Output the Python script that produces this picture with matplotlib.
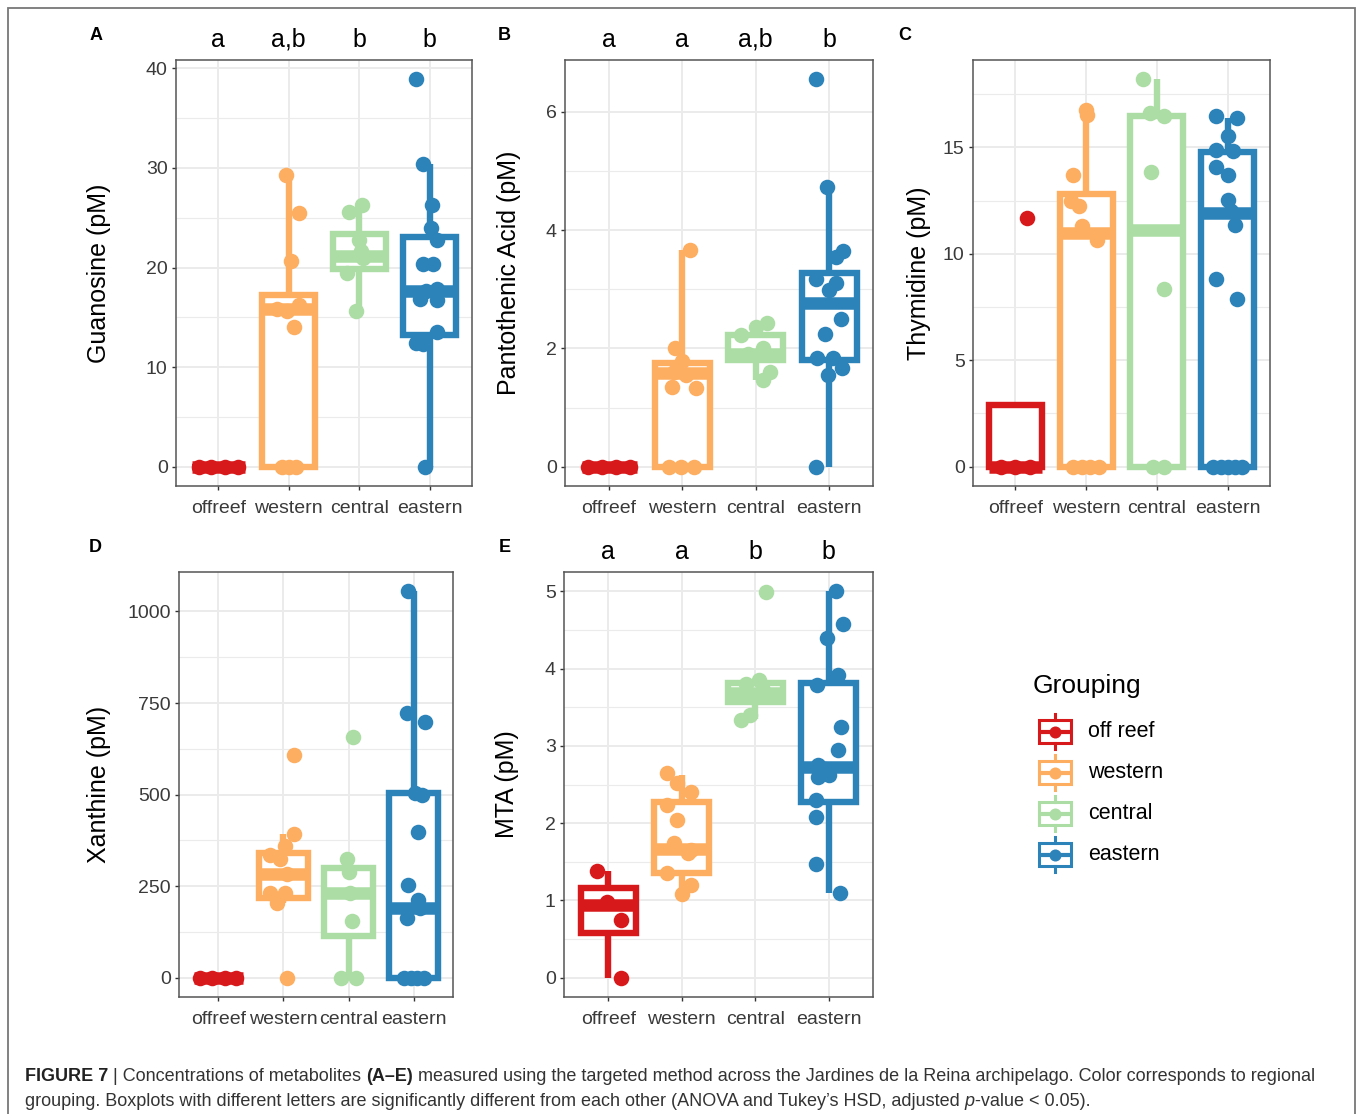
import matplotlib.pyplot as plt
from matplotlib.patches import Rectangle
from matplotlib.transforms import blended_transform_factory

plt.rcParams["font.family"] = ["Liberation Sans", "DejaVu Sans"]

W, H = 1358, 1114

groups = ["offreef", "western", "central", "eastern"]
legend_labels = ["off reef", "western", "central", "eastern"]
colours = ["#D7191C", "#FDAE61", "#ABDDA4", "#2B83BA"]

# ---- A: Guanosine ----
guan_off = [0, 0, 0, 0]
guan_off_dx = [-0.28, -0.1, 0.1, 0.28]
guan_west = [29.3, 25.5, 20.7, 16.2, 15.8, 15.6, 14.0, 0, 0, 0]
guan_west_dx = [-0.04, 0.14, 0.03, 0.14, -0.16, -0.02, 0.08, -0.1, 0.0, 0.1]
guan_cen = [26.3, 25.6, 22.8, 21.7, 21.0, 19.5, 15.6]
guan_cen_dx = [0.04, -0.14, 0.0, 0.02, 0.05, -0.17, -0.04]
guan_east = [38.9, 30.4, 26.3, 24.0, 22.8, 20.4, 20.4, 17.8, 17.6, 16.8, 16.7, 13.5, 12.4, 12.3, 0]
guan_east_dx = [-0.2, -0.1, 0.03, 0.02, 0.1, -0.1, 0.05, 0.1, -0.05, -0.14, 0.1, 0.1, -0.2, -0.1, -0.07]
guan_q1 = [0, 0, 19.9, 13.2]
guan_med = [0, 15.8, 21.2, 17.6]
guan_q3 = [0, 17.2, 23.4, 23.1]
guan_lo = [0, 0, 15.6, 0]
guan_hi = [0, 29.3, 26.3, 30.4]
guan_letters = ["a", "a,b", "b", "b"]

# ---- B: Pantothenic acid ----
pant_off = [0, 0, 0, 0]
pant_off_dx = [-0.28, -0.1, 0.1, 0.28]
pant_west = [3.66, 2.0, 1.78, 1.6, 1.55, 1.35, 1.33, 0, 0, 0]
pant_west_dx = [0.11, -0.1, 0.0, -0.12, 0.05, -0.14, 0.18, -0.18, -0.02, 0.16]
pant_cen = [2.43, 2.37, 2.22, 2.0, 1.9, 1.6, 1.47]
pant_cen_dx = [0.15, 0.0, -0.2, 0.1, -0.1, 0.19, 0.1]
pant_east = [6.55, 4.73, 3.65, 3.55, 3.17, 3.1, 2.98, 2.5, 2.24, 1.84, 1.83, 1.67, 1.55, 0]
pant_east_dx = [-0.18, -0.03, 0.19, 0.1, -0.18, 0.1, 0.0, 0.16, -0.05, -0.16, 0.05, 0.18, -0.02, -0.18]
pant_q1 = [0, 0, 1.8, 1.8]
pant_med = [0, 1.58, 1.9, 2.77]
pant_q3 = [0, 1.75, 2.22, 3.28]
pant_lo = [0, 0, 1.47, 0]
pant_hi = [0, 3.66, 2.43, 4.73]
pant_letters = ["a", "a", "a,b", "b"]

# ---- C: Thymidine ----
thym_off = [11.69, 0, 0, 0]
thym_off_dx = [0.16, -0.2, 0.0, 0.2]
thym_west = [16.77, 16.54, 13.72, 12.47, 12.23, 11.3, 10.67, 0, 0, 0, 0]
thym_west_dx = [0.0, 0.01, -0.18, -0.22, -0.1, -0.06, 0.15, -0.18, -0.06, 0.06, 0.18]
thym_cen = [18.2, 16.6, 16.5, 13.85, 8.36, 0, 0]
thym_cen_dx = [-0.2, -0.1, 0.1, -0.08, 0.1, -0.05, 0.1]
thym_east = [16.5, 16.4, 15.52, 14.9, 14.85, 14.1, 13.72, 12.55, 12.0, 11.34, 8.84, 7.88, 0, 0, 0, 0, 0]
thym_east_dx = [-0.17, 0.13, 0.0, -0.17, 0.08, -0.17, 0.0, 0.0, 0.05, 0.1, -0.17, 0.13, -0.2, -0.1, 0.0, 0.1, 0.2]
thym_q1 = [0, 0, 0, 0]
thym_med = [0, 11.0, 11.1, 11.9]
thym_q3 = [2.9, 12.8, 16.5, 14.8]
thym_lo = [0, 0, 0, 0]
thym_hi = [2.9, 16.77, 18.2, 16.4]

# ---- D: Xanthine ----
xan_off = [0, 0, 0, 0]
xan_off_dx = [-0.28, -0.1, 0.1, 0.28]
xan_west = [609, 391, 359, 335, 323, 282, 232, 230, 205, 0]
xan_west_dx = [0.17, 0.17, 0.02, -0.2, -0.05, 0.05, -0.2, 0.02, -0.1, 0.06]
xan_cen = [656, 323, 288, 232, 154, 0, 0]
xan_cen_dx = [0.06, -0.02, 0.01, 0.02, 0.05, -0.12, 0.12]
xan_east = [1055, 724, 698, 503, 500, 397, 252, 213, 190, 164, 0, 0, 0, 0]
xan_east_dx = [-0.09, -0.1, 0.17, 0.02, 0.12, 0.06, -0.09, 0.06, 0.1, -0.1, -0.15, -0.05, 0.05, 0.15]
xan_q1 = [0, 218, 114, 0]
xan_med = [0, 282, 232, 191]
xan_q3 = [0, 341, 300, 504]
xan_lo = [0, 205, 0, 0]
xan_hi = [0, 391, 323, 1055]

# ---- E: MTA ----
mta_off = [1.38, 0.98, 0.75, 0.0]
mta_off_dx = [-0.15, -0.01, 0.17, 0.17]
mta_west = [2.65, 2.52, 2.40, 2.24, 2.04, 1.74, 1.65, 1.62, 1.35, 1.2, 1.08]
mta_west_dx = [-0.2, -0.07, 0.13, -0.2, -0.07, -0.1, 0.13, 0.08, -0.2, 0.12, 0.0]
mta_cen = [4.99, 3.85, 3.8, 3.72, 3.65, 3.4, 3.33]
mta_cen_dx = [0.14, 0.05, -0.13, 0.1, -0.05, -0.07, -0.2]
mta_east = [5.0, 4.58, 4.40, 3.92, 3.79, 3.24, 2.95, 2.75, 2.7, 2.62, 2.6, 2.3, 2.08, 1.47, 1.1]
mta_east_dx = [0.1, 0.19, -0.03, 0.13, -0.16, 0.17, 0.13, -0.15, -0.05, 0.0, -0.15, -0.18, -0.18, -0.17, 0.15]
mta_q1 = [0.58, 1.36, 3.57, 2.28]
mta_med = [0.94, 1.67, 3.69, 2.73]
mta_q3 = [1.16, 2.28, 3.81, 3.82]
mta_lo = [0, 1.1, 3.35, 1.1]
mta_hi = [1.38, 2.62, 3.85, 5.0]
mta_letters = ["a", "a", "b", "b"]


fig = plt.figure(figsize=(W / 100, H / 100), dpi=100)


def px_axes(left, top, right, bottom):
    return fig.add_axes([left / W, 1 - bottom / H, (right - left) / W, (bottom - top) / H])


def draw_panel(ax, values, offsets, q1, med, q3, lo, hi, ylabel, yticks, label_x, letters=None):
    stats = [dict(q1=a, med=m, q3=b, whislo=l, whishi=h) for a, m, b, l, h in zip(q1, med, q3, lo, hi)]
    bp = ax.bxp(stats, positions=[1, 2, 3, 4], widths=0.75, patch_artist=True,
                showfliers=False, showcaps=False, manage_ticks=False)
    for i, c in enumerate(colours):
        bp["boxes"][i].set(facecolor="white", edgecolor=c, linewidth=4.6, zorder=2)
        bp["medians"][i].set(color=c, linewidth=9, solid_capstyle="butt", zorder=2.5)
        for w in bp["whiskers"][2 * i:2 * i + 2]:
            w.set(color=c, linewidth=4.6, solid_capstyle="butt", zorder=1.9)
        ax.scatter([i + 1 + d for d in offsets[i]], values[i], s=125, color=c,
                   linewidths=0, zorder=3)

    allv = [v for g in values for v in g] + list(lo) + list(hi)
    vmin, vmax = min(allv), max(allv)
    pad = (vmax - vmin) * 0.05
    ax.set_ylim(vmin - pad, vmax + pad)
    ax.set_xlim(0.4, 4.6)

    step = yticks[1] - yticks[0]
    minor = [t + step / 2 for t in yticks] + [yticks[0] - step / 2]
    minor = [m for m in minor if vmin - pad < m < vmax + pad]
    ax.set_yticks(yticks)
    ax.set_yticks(minor, minor=True)
    ax.set_xticks([1, 2, 3, 4])
    ax.set_xticklabels(groups)

    ax.set_axisbelow(True)
    ax.grid(which="major", color="#EBEBEB", linewidth=1.4)
    ax.grid(which="minor", axis="y", color="#EBEBEB", linewidth=0.8)
    ax.tick_params(which="major", length=3, width=1, color="#333333",
                   labelsize=14, labelcolor="#3A3A3A", pad=3)
    ax.tick_params(axis="x", pad=7)
    ax.tick_params(which="minor", length=0)
    for s in ax.spines.values():
        s.set_color("#555555")
        s.set_linewidth(1.1)

    ax.set_ylabel(ylabel, fontsize=18)
    ax.yaxis.set_label_coords(label_x / W, 0.5,
                              transform=blended_transform_factory(fig.transFigure, ax.transAxes))
    if letters:
        for i, t in enumerate(letters):
            ax.annotate(t, xy=(i + 1, 1), xycoords=("data", "axes fraction"),
                        xytext=(0, 9.5), textcoords="offset points",
                        ha="center", va="baseline", fontsize=18)


axA = px_axes(176, 60, 472, 486)
draw_panel(axA, [guan_off, guan_west, guan_cen, guan_east],
           [guan_off_dx, guan_west_dx, guan_cen_dx, guan_east_dx],
           guan_q1, guan_med, guan_q3, guan_lo, guan_hi,
           "Guanosine (pM)", [0, 10, 20, 30, 40], 111, guan_letters)

axB = px_axes(565, 60, 873, 486)
draw_panel(axB, [pant_off, pant_west, pant_cen, pant_east],
           [pant_off_dx, pant_west_dx, pant_cen_dx, pant_east_dx],
           pant_q1, pant_med, pant_q3, pant_lo, pant_hi,
           "Pantothenic Acid (pM)", [0, 2, 4, 6], 521, pant_letters)

axC = px_axes(973, 60, 1270, 486)
draw_panel(axC, [thym_off, thym_west, thym_cen, thym_east],
           [thym_off_dx, thym_west_dx, thym_cen_dx, thym_east_dx],
           thym_q1, thym_med, thym_q3, thym_lo, thym_hi,
           "Thymidine (pM)", [0, 5, 10, 15], 931)

axD = px_axes(179, 572, 453, 997)
draw_panel(axD, [xan_off, xan_west, xan_cen, xan_east],
           [xan_off_dx, xan_west_dx, xan_cen_dx, xan_east_dx],
           xan_q1, xan_med, xan_q3, xan_lo, xan_hi,
           "Xanthine (pM)", [0, 250, 500, 750, 1000], 111)

axE = px_axes(564, 572, 873, 997)
draw_panel(axE, [mta_off, mta_west, mta_cen, mta_east],
           [mta_off_dx, mta_west_dx, mta_cen_dx, mta_east_dx],
           mta_q1, mta_med, mta_q3, mta_lo, mta_hi,
           "MTA (pM)", [0, 1, 2, 3, 4, 5], 519, mta_letters)

# panel tags
for tag, x, y in [("A", 96, 35), ("B", 504, 35), ("C", 905, 35), ("D", 95, 547), ("E", 505, 547)]:
    fig.text(x / W, 1 - y / H, tag, fontsize=13, fontweight="bold", ha="center", va="center")

# legend
fig.text(1033 / W, 1 - 686 / H, "Grouping", fontsize=19, ha="left", va="center")
leg = px_axes(1030, 711, 1200, 875)
leg.set_xlim(0, 170 / 41)
leg.set_ylim(3.5, -0.5)
leg.axis("off")
for i, (c, lab) in enumerate(zip(colours, legend_labels)):
    st = [dict(q1=i - 0.29, med=i, q3=i + 0.29, whislo=i - 0.43, whishi=i + 0.43)]
    b = leg.bxp(st, positions=[0.61], widths=0.8, patch_artist=True, showfliers=False,
                showcaps=False, manage_ticks=False)
    b["boxes"][0].set(facecolor="white", edgecolor=c, linewidth=2.2)
    b["medians"][0].set(color=c, linewidth=3)
    for w in b["whiskers"]:
        w.set(color=c, linewidth=2.2)
    leg.scatter([0.61], [i], s=75, color=c, linewidths=0, zorder=3)
    leg.text(1.41, i, lab, fontsize=15.5, ha="left", va="center")

# caption
cap = fig.add_axes([0, 0, 1, 1], zorder=-1)
cap.axis("off")
cap.set_xlim(0, 1)
cap.set_ylim(0, 1)
csize = 13
line1 = [("FIGURE 7", "bold"), (" | Concentrations of metabolites ", "normal"), ("(A\u2013E)", "bold"),
         (" measured using the targeted method across the Jardines de la Reina archipelago. "
          "Color corresponds to regional", "normal")]
line2 = [("grouping. Boxplots with different letters are significantly different from each other "
          "(ANOVA and Tukey\u2019s HSD, adjusted ", "normal"), ("p", "italic"), ("-value < 0.05).", "normal")]
for parts, ybase in [(line1, 1081), (line2, 1106)]:
    prev = None
    for s, style in parts:
        kw = dict(fontsize=csize, color="#333333")
        if style == "bold":
            kw["fontweight"] = "bold"
            kw["color"] = "#222222"
        if style == "italic":
            kw["fontstyle"] = "italic"
        if prev is None:
            prev = cap.text(25 / W, 1 - ybase / H, s, va="baseline", ha="left", **kw)
        else:
            prev = cap.annotate(s, xy=(1, 0), xycoords=prev, va="bottom", ha="left", **kw)

# outer frame
fig.patches.append(Rectangle((8 / W, -0.01), (1355 - 8) / W, 1 - 8 / H + 0.01,
                             transform=fig.transFigure, fill=False,
                             edgecolor="#777777", linewidth=1.3))

fig.savefig("out.png", dpi=100)
